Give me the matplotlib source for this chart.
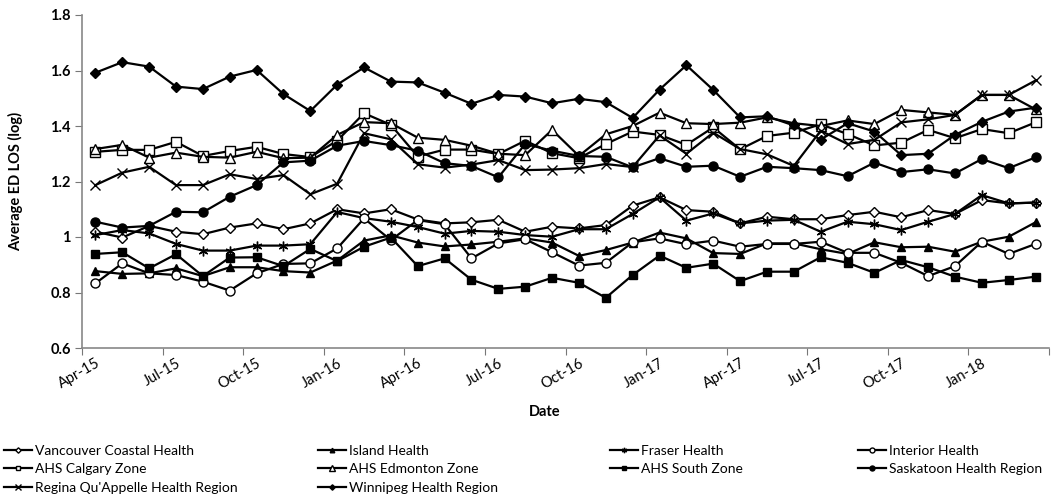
import matplotlib
matplotlib.use("Agg")
import matplotlib.pyplot as plt
import numpy as np

months = ["Apr-15","May-15","Jun-15","Jul-15","Aug-15","Sep-15","Oct-15","Nov-15","Dec-15",
          "Jan-16","Feb-16","Mar-16","Apr-16","May-16","Jun-16","Jul-16","Aug-16","Sep-16",
          "Oct-16","Nov-16","Dec-16","Jan-17","Feb-17","Mar-17","Apr-17","May-17","Jun-17",
          "Jul-17","Aug-17","Sep-17","Oct-17","Nov-17","Dec-17","Jan-18","Feb-18","Mar-18"]

vancouver = [1.019,0.998,1.04,1.019,1.01,1.034,1.049,1.028,1.049,1.10,1.085,1.10,1.063,1.049,1.053,1.062,
             1.019,1.037,1.031,1.043,1.113,1.143,1.097,1.091,1.049,1.073,1.064,1.064,1.079,1.091,1.071,
             1.097,1.083,1.133,1.121,1.124]
island = [0.877,0.867,0.869,0.887,0.859,0.891,0.891,0.877,0.872,0.915,0.987,1.006,0.98,0.966,0.973,0.983,
          0.995,0.98,0.932,0.953,0.98,1.016,0.995,0.942,0.939,0.977,0.977,0.956,0.939,0.981,0.963,0.965,
          0.947,0.983,1.001,1.053]
fraser = [1.007,1.025,1.013,0.975,0.951,0.951,0.969,0.969,0.974,1.09,1.068,1.055,1.036,1.012,1.022,1.019,
          1.007,1.001,1.028,1.028,1.083,1.143,1.059,1.085,1.049,1.059,1.062,1.019,1.055,1.046,1.025,1.055,
          1.083,1.151,1.121,1.124]
interior = [0.833,0.905,0.869,0.863,0.839,0.807,0.869,0.903,0.905,0.959,1.067,0.989,1.061,1.046,0.923,0.977,
            0.992,0.945,0.897,0.907,0.981,0.995,0.974,0.987,0.965,0.975,0.975,0.983,0.943,0.943,0.907,0.859,
            0.895,0.983,0.939,0.975]
calgary = [1.307,1.314,1.314,1.343,1.292,1.31,1.325,1.299,1.288,1.347,1.446,1.404,1.29,1.315,1.315,1.299,
           1.347,1.302,1.284,1.335,1.38,1.368,1.332,1.395,1.316,1.364,1.376,1.406,1.371,1.33,1.34,1.386,
           1.356,1.389,1.374,1.413]
edmonton = [1.317,1.332,1.286,1.304,1.289,1.286,1.307,1.284,1.286,1.368,1.414,1.41,1.358,1.35,1.329,1.30,
            1.295,1.386,1.292,1.37,1.40,1.448,1.41,1.407,1.412,1.431,1.41,1.40,1.42,1.407,1.458,1.449,
            1.44,1.512,1.512,1.46]
south = [0.939,0.945,0.887,0.938,0.859,0.926,0.927,0.895,0.957,0.913,0.965,0.998,0.895,0.923,0.846,0.813,
         0.821,0.853,0.835,0.781,0.863,0.933,0.889,0.904,0.841,0.875,0.875,0.927,0.907,0.871,0.917,0.891,
         0.857,0.835,0.845,0.857]
saskatoon = [1.055,1.034,1.04,1.091,1.089,1.145,1.187,1.269,1.275,1.329,1.346,1.331,1.311,1.266,1.256,1.215,
             1.335,1.311,1.292,1.289,1.251,1.284,1.253,1.257,1.217,1.253,1.248,1.241,1.219,1.268,1.234,1.244,
             1.229,1.281,1.248,1.287]
regina = [1.187,1.232,1.253,1.187,1.187,1.226,1.209,1.223,1.154,1.192,1.374,1.352,1.262,1.25,1.261,1.277,
          1.241,1.243,1.248,1.263,1.252,1.366,1.30,1.376,1.317,1.298,1.256,1.383,1.335,1.35,1.413,1.424,
          1.44,1.512,1.512,1.564]
winnipeg = [1.592,1.63,1.614,1.542,1.533,1.578,1.602,1.515,1.454,1.549,1.611,1.56,1.557,1.52,1.48,1.512,
            1.506,1.482,1.498,1.486,1.429,1.531,1.619,1.53,1.431,1.435,1.402,1.351,1.41,1.38,1.295,1.30,
            1.368,1.415,1.452,1.466]

series_names = ["Vancouver Coastal Health", "Island Health", "Fraser Health", "Interior Health",
                "AHS Calgary Zone", "AHS Edmonton Zone", "AHS South Zone", "Saskatoon Health Region",
                "Regina Qu'Appelle Health Region", "Winnipeg Health Region"]
series_values = [vancouver, island, fraser, interior, calgary, edmonton, south, saskatoon, regina, winnipeg]

y_ticks = [0.6, 0.8, 1.0, 1.2, 1.4, 1.6, 1.8]
y_tick_labels = ["0.6", "0.8", "1", "1.2", "1.4", "1.6", "1.8"]

styles = [
    dict(marker="D", mfc="white", ms=5),
    dict(marker="^", mfc="black", ms=6),
    dict(marker=(6, 2, 0), mfc="black", ms=7),
    dict(marker="o", mfc="white", ms=6.5),
    dict(marker="s", mfc="white", ms=6.5),
    dict(marker="^", mfc="white", ms=7),
    dict(marker="s", mfc="black", ms=5.5),
    dict(marker="o", mfc="black", ms=6.5),
    dict(marker="x", mfc="black", ms=7),
    dict(marker="D", mfc="black", ms=5),
]

plt.rcParams['font.family'] = ['Lato', 'DejaVu Sans']

fig = plt.figure(figsize=(10.55, 5.04), dpi=100)
ax = fig.add_axes([82/1055, 1-348/504, (1049-82)/1055, (348-15)/504])

x = np.arange(len(months))
handles = []
for name, vals, st in zip(series_names, series_values, styles):
    h, = ax.plot(x, vals, color="black", lw=1.6, marker=st["marker"], ms=st["ms"],
                 mfc=st["mfc"], mec="black", mew=1.0, label=name)
    handles.append(h)

ax.set_xlim(-0.5, len(months) - 0.5)
ax.set_ylim(0.6, 1.8)
ax.set_yticks(y_ticks)
ax.set_yticklabels(y_tick_labels, fontweight="bold", fontsize=10.5)

ax.set_xticks(np.arange(-0.5, len(months), 3))
ax.set_xticklabels([])
ax.set_xticks(x[::3], minor=True)
ax.set_xticklabels(months[::3], minor=True, rotation=30, ha="right", va="top",
                   rotation_mode="anchor", fontsize=10.5)
ax.tick_params(axis="x", which="minor", length=0, pad=6)
ax.tick_params(axis="x", which="major", length=5, direction="out", color="#777777")
ax.tick_params(axis="y", length=5, direction="out", color="#777777", pad=3)

for s in ["top", "right"]:
    ax.spines[s].set_visible(False)
for s in ["left", "bottom"]:
    ax.spines[s].set_color("#888888")
    ax.spines[s].set_linewidth(1.2)

fig.text(545/1055, 1-412/504, "Date", ha="center", va="center", fontweight="bold", fontsize=10.5)
fig.text(16/1055, 1-181/504, "Average ED LOS (log)", ha="center", va="center",
         rotation=90, fontweight="bold", fontsize=10.5)

# legend: four columns laid out row by row
col_x = [4, 318, 610, 858]
columns = [[0, 4, 8], [1, 5, 9], [2, 6], [3, 7]]
legend_font = dict(family=['Lato', 'DejaVu Sans'], size=10)
for cx, idxs in zip(col_x, columns):
    fig.legend(handles=[handles[i] for i in idxs], loc="upper left",
               bbox_to_anchor=(cx/1055, 1-445/504), ncol=1, frameon=False,
               prop=legend_font, markerscale=0.55, handlelength=2.0,
               handletextpad=0.25, labelspacing=0.45, borderaxespad=0, borderpad=0)

fig.savefig("out.png", dpi=100)
